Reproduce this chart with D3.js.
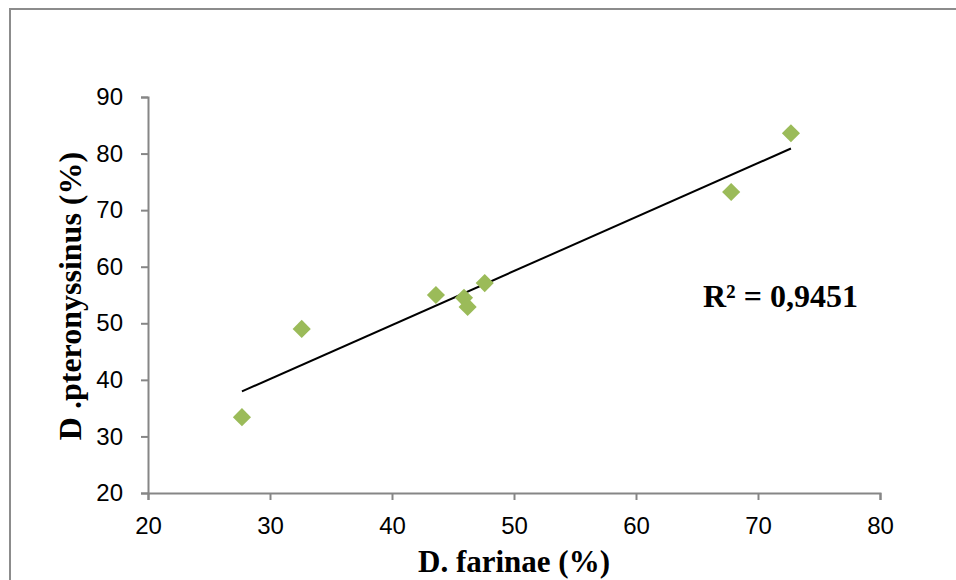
<!DOCTYPE html>
<html><head><meta charset="utf-8">
<script src="https://cdn.jsdelivr.net/npm/d3@7"></script>
<style>body{margin:0;background:#fff}svg{display:block}</style>
</head><body>
<svg id="chart" width="956" height="580"></svg>
<script>
const farinae = [27.7, 32.6, 43.6, 45.9, 46.2, 47.6, 67.8, 72.7];
const pteronyssinus = [33.4, 49.0, 55.0, 54.5, 52.9, 57.1, 73.2, 83.6];
const xTicks = [20, 30, 40, 50, 60, 70, 80];
const yTicks = [20, 30, 40, 50, 60, 70, 80, 90];
const r2Label = "R² = 0,9451";
const xTitle = "D. farinae (%)";
const yTitle = "D .pteronyssinus (%)";

const svg = d3.select("#chart");
const x = d3.scaleLinear().domain([20, 80]).range([148, 880]);
const y = d3.scaleLinear().domain([20, 90]).range([493, 97]);
const axisColor = "#868686";
const tickFont = "'Liberation Sans',Arial,sans-serif";
const serif = "'Liberation Serif','Times New Roman',serif";

// frame
svg.append("path").attr("d", "M10,580 L10,9 L956,9")
  .attr("fill", "none").attr("stroke", "#8c8c8c").attr("stroke-width", 2);

// axes
const gx = svg.append("g").attr("transform", `translate(0,${y(20)})`)
  .call(d3.axisBottom(x).tickValues(xTicks).tickSize(7).tickPadding(17).tickFormat(d3.format("d")));
const gy = svg.append("g").attr("transform", `translate(${x(20)},0)`)
  .call(d3.axisLeft(y).tickValues(yTicks).tickSize(7).tickPadding(18).tickFormat(d3.format("d")));
[gx, gy].forEach(g => {
  g.select(".domain").attr("stroke", axisColor).attr("stroke-width", 2);
  g.selectAll(".tick line").attr("stroke", axisColor).attr("stroke-width", 2);
  g.selectAll(".tick text").attr("fill", "#000").style("font-family", tickFont).style("font-size", "24px");
});

// trendline (least squares)
const n = farinae.length;
const mx = d3.mean(farinae), my = d3.mean(pteronyssinus);
let sxy = 0, sxx = 0;
for (let i = 0; i < n; i++) { sxy += (farinae[i]-mx)*(pteronyssinus[i]-my); sxx += (farinae[i]-mx)**2; }
const slope = sxy / sxx, icpt = my - slope * mx;
const [x0, x1] = d3.extent(farinae);
svg.append("line")
  .attr("x1", x(x0)).attr("y1", y(icpt + slope*x0))
  .attr("x2", x(x1)).attr("y2", y(icpt + slope*x1))
  .attr("stroke", "#000").attr("stroke-width", 2);

// points
const sym = d3.symbol().type(d3.symbolDiamond2).size(210);
svg.append("g").selectAll("path").data(farinae).join("path")
  .attr("d", sym)
  .attr("transform", (d, i) => `translate(${x(d)},${y(pteronyssinus[i])})`)
  .attr("fill", "#9bbb59");

// R² label
svg.append("text").attr("x", 703).attr("y", 307)
  .style("font-family", serif).style("font-weight", "bold").style("font-size", "32px")
  .text(r2Label);

// axis titles
svg.append("text").attr("x", 514).attr("y", 572).attr("text-anchor", "middle")
  .style("font-family", serif).style("font-weight", "bold").style("font-size", "31px")
  .text(xTitle);
svg.append("text").attr("transform", "translate(81,296) rotate(-90)").attr("text-anchor", "middle")
  .style("font-family", serif).style("font-weight", "bold").style("font-size", "32px")
  .text(yTitle);
</script>
</body></html>
